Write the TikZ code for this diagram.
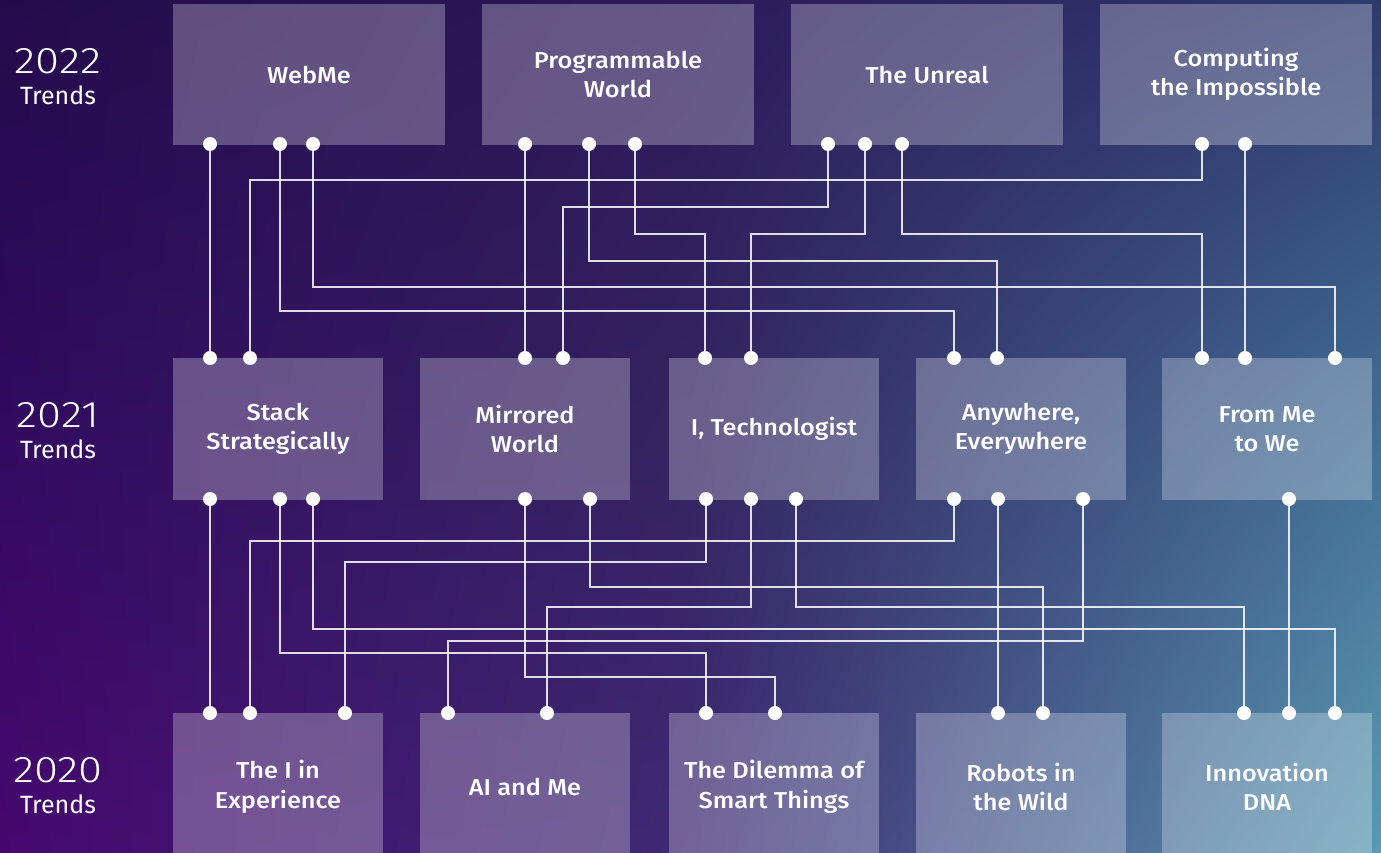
\documentclass[tikz,border=0pt]{standalone}
\usepackage{fontspec}
\setmainfont{Fira Sans}[BoldFont={Fira Sans Medium}, BoldFeatures={FakeStretch=1.1}]
\newfontfamily\yearfont{Fira Sans Light}[FakeStretch=1.18]
\usepackage{tikz}
\usetikzlibrary{positioning, shadings}

\definecolor{bgTL}{HTML}{230B4B}
\definecolor{bgTM}{HTML}{2C1A5A}
\definecolor{bgTR}{HTML}{2E3A6E}
\definecolor{bgML}{HTML}{320A60}
\definecolor{bgMM}{HTML}{332460}
\definecolor{bgMR}{HTML}{426E96}
\definecolor{bgBL}{HTML}{46086F}
\definecolor{bgBM}{HTML}{3E2A74}
\definecolor{bgBR}{HTML}{5A9AB2}

\begin{document}
\begin{tikzpicture}[x=1pt, y=-1pt,
    trend/.style={rectangle, fill=white, fill opacity=0.27, text opacity=1, text=white,
        align=center, inner sep=0pt, font=\fontsize{23}{29.5}\selectfont\bfseries},
    wide/.style={trend, minimum width=272pt, minimum height=141pt},
    narrow/.style={trend, minimum width=210pt, minimum height=142pt},
    dot/.style={circle, fill=white, inner sep=0pt, minimum size=14pt},
    link/.style={white, draw opacity=0.85, line width=1.1pt},
    year/.style={text=white, inner sep=0pt, font=\fontsize{37}{37}\yearfont},
    trends/.style={text=white, inner sep=0pt, font=\fontsize{25}{25}\selectfont}]

    \useasboundingbox (0,0) rectangle (1381,853);
    \clip (0,0) rectangle (1381,853);

    \shade[upper left=bgTL, upper right=bgTM, lower left=bgML, lower right=bgMM] (0,0) rectangle (691,427);
    \shade[upper left=bgTM, upper right=bgTR, lower left=bgMM, lower right=bgMR] (690,0) rectangle (1381,427);
    \shade[upper left=bgML, upper right=bgMM, lower left=bgBL, lower right=bgBM] (0,426) rectangle (691,853);
    \shade[upper left=bgMM, upper right=bgMR, lower left=bgBM, lower right=bgBR] (690,426) rectangle (1381,853);

    \node (Y22) [year] at (58,61) {2022};
    \node (L22) [trends, below=12pt of Y22] {Trends};
    \node (Y21) [year] at (58,415) {2021};
    \node (L21) [trends, below=12pt of Y21] {Trends};
    \node (Y20) [year] at (58,770) {2020};
    \node (L20) [trends, below=12pt of Y20] {Trends};

    \node (T1) [wide] at (309,74.5) {WebMe};
    \node (T2) [wide] at (618,74.5) {Programmable\\World};
    \node (T3) [wide] at (927,74.5) {The Unreal};
    \node (T4) [wide] at (1236,74.5) {Computing\\the Impossible};

    \node (M1) [narrow] at (278,429) {Stack\\Strategically};
    \node (M2) [narrow] at (525,429) {Mirrored\\World};
    \node (M3) [narrow] at (774,429) {I, Technologist};
    \node (M4) [narrow] at (1021,429) {Anywhere,\\Everywhere};
    \node (M5) [narrow] at (1267,429) {From Me\\to We};

    \node (B1) [narrow, minimum height=148pt] at (278,787) {The I in\\Experience};
    \node (B2) [narrow, minimum height=148pt] at (525,787) {AI and Me};
    \node (B3) [narrow, minimum height=148pt] at (774,787) {The Dilemma of\\Smart Things};
    \node (B4) [narrow, minimum height=148pt] at (1021,787) {Robots in\\the Wild};
    \node (B5) [narrow, minimum height=148pt] at (1267,787) {Innovation\\DNA};

    \foreach \n/\x in {T1a/210, T1b/280, T1c/313, T2a/525, T2b/589, T2c/635,
                       T3a/828, T3b/865, T3c/902, T4a/1202, T4b/1245}
        \node (\n) [dot] at (\x,144) {};
    \foreach \n/\x in {M1a/210, M1b/250, M2a/525, M2b/563, M3a/705, M3b/751,
                       M4a/954, M4b/997, M5a/1202, M5b/1245, M5c/1335}
        \node (\n) [dot] at (\x,358) {};
    \foreach \n/\x in {M1c/210, M1d/280, M1e/313, M2c/525, M2d/590, M3c/706,
                       M3d/751, M3e/796, M4c/954, M4d/998, M4e/1083, M5d/1289}
        \node (\n) [dot] at (\x,499) {};
    \foreach \n/\x in {B1a/210, B1b/250, B1c/345, B2a/448, B2b/547, B3a/706,
                       B3b/775, B4a/998, B4b/1043, B5a/1244, B5b/1289, B5c/1335}
        \node (\n) [dot] at (\x,713) {};

    \draw[link] (T1a) -- (M1a);
    \draw[link] (T1b) -- (T1b |- 0,311) -| (M4a);
    \draw[link] (T1c) -- (T1c |- 0,287) -| (M5c);
    \draw[link] (T2a) -- (M2a);
    \draw[link] (T2b) -- (T2b |- 0,261) -| (M4b);
    \draw[link] (T2c) -- (T2c |- 0,234) -| (M3a);
    \draw[link] (T3a) -- (T3a |- 0,207) -| (M2b);
    \draw[link] (T3b) -- (T3b |- 0,234) -| (M3b);
    \draw[link] (T3c) -- (T3c |- 0,234) -| (M5a);
    \draw[link] (T4a) -- (T4a |- 0,180) -| (M1b);
    \draw[link] (T4b) -- (M5b);

    \draw[link] (M1c) -- (B1a);
    \draw[link] (M1d) -- (M1d |- 0,653) -| (B3a);
    \draw[link] (M1e) -- (M1e |- 0,629) -| (B5c);
    \draw[link] (M2c) -- (M2c |- 0,677) -| (B3b);
    \draw[link] (M2d) -- (M2d |- 0,587) -| (B4b);
    \draw[link] (M3c) -- (M3c |- 0,562) -| (B1c);
    \draw[link] (M3d) -- (M3d |- 0,607) -| (B2b);
    \draw[link] (M3e) -- (M3e |- 0,607) -| (B5a);
    \draw[link] (M4c) -- (M4c |- 0,541) -| (B1b);
    \draw[link] (M4d) -- (B4a);
    \draw[link] (M4e) -- (M4e |- 0,641) -| (B2a);
    \draw[link] (M5d) -- (B5b);

\end{tikzpicture}
\end{document}
